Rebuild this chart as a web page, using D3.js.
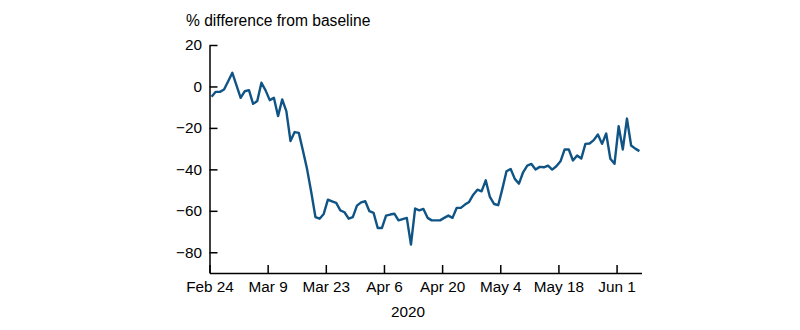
<!DOCTYPE html>
<html>
<head>
<meta charset="utf-8">
<script src="https://cdn.jsdelivr.net/npm/d3@7"></script>
<style>
  html, body { margin: 0; padding: 0; background: #fff; }
  svg { display: block; }
  text { font-family: "Liberation Sans", Arial, Helvetica, sans-serif; fill: #000; }
</style>
</head>
<body>
<svg id="chart" width="800" height="330"></svg>
<script>
// ---- data ----
const startDate = "2020-02-24";
const values = [
  -5, -2.6, -2.6, -1.5, 2.5, 6.6, 0.5, -5.5, -2.3, -1.8,
  -8.4, -7, 1.8, -1.9, -6.6, -5.5, -14.3, -6.3, -11.9, -26.3,
  -22, -22.4, -31, -40, -51, -63, -63.8, -61.5, -54.6, -55.4,
  -56.2, -59.8, -60.7, -63.8, -63, -57.5, -55.9, -55.4, -60.2, -61,
  -68.3, -68.3, -62.3, -61.8, -61.4, -64.6, -64, -63.4, -76.3, -58.9,
  -59.8, -59.1, -63.4, -64.6, -64.6, -64.6, -63.4, -62.3, -63.4, -58.6,
  -58.6, -57, -55.7, -52.2, -49.8, -50.6, -45.3, -53.3, -56.7, -57.3,
  -49.4, -40.9, -39.8, -44.6, -46.9, -41.4, -38.2, -37.4, -40.1, -38.8,
  -39, -38.2, -40.1, -38.5, -36.1, -30.4, -30.4, -35.7, -33.3, -34.8,
  -27.7, -27.5, -25.9, -23.2, -27.7, -22.7, -34.9, -37.3, -19.2, -30.4,
  -15.5, -28.5, -30, -31.2
];
const xTickDates = ["2020-02-24","2020-03-09","2020-03-23","2020-04-06","2020-04-20","2020-05-04","2020-05-18","2020-06-01"];
const xTickLabels = ["Feb 24","Mar 9","Mar 23","Apr 6","Apr 20","May 4","May 18","Jun 1"];
const yTicks = [20, 0, -20, -40, -60, -80];
const yLabel = "% difference from baseline";
const xLabel = "2020";

// ---- build ----
const parse = d3.utcParse("%Y-%m-%d");
const start = parse(startDate);
const data = values.map((v, i) => ({ date: d3.utcHour.offset(d3.utcDay.offset(start, i), 12), value: v }));

const svg = d3.select("#chart");
const FS = "15.3px";

const x = d3.scaleUtc()
  .domain([start, parse("2020-06-07")])
  .range([209.5, 641.5]);
const y = d3.scaleLinear().domain([-90, 20]).range([273, 45]);

const tickDates = xTickDates.map(parse);

const xAxis = d3.axisBottom(x)
  .tickValues(tickDates)
  .tickFormat((d, i) => xTickLabels[i])
  .tickSizeInner(-8).tickSizeOuter(0).tickPadding(8.5);

const yAxis = d3.axisLeft(y)
  .tickValues(yTicks)
  .tickSizeInner(-8).tickSizeOuter(0).tickPadding(7.5);

const gx = svg.append("g").attr("transform", "translate(0,273)").call(xAxis);
const gy = svg.append("g").attr("transform", "translate(209.5,0)").call(yAxis);

[gx, gy].forEach(g => {
  g.selectAll("path.domain").attr("stroke", "#000").attr("stroke-width", 1.5);
  g.selectAll(".tick line").attr("stroke", "#000").attr("stroke-width", 1.5);
  g.selectAll(".tick text").attr("font-size", FS)
    .attr("font-family", "'Liberation Sans', Arial, sans-serif").attr("fill", "#000");
});

const line = d3.line().x(d => x(d.date)).y(d => y(d.value));
svg.append("path").datum(data)
  .attr("fill", "none")
  .attr("stroke", "#0f5485")
  .attr("stroke-width", 2.4)
  .attr("stroke-linejoin", "round")
  .attr("d", line);

svg.append("text").attr("x", 186).attr("y", 26)
  .attr("font-size", "15.6px").text(yLabel);

svg.append("text").attr("x", 408).attr("y", 317)
  .attr("text-anchor", "middle").attr("font-size", FS).text(xLabel);
</script>
</body>
</html>
